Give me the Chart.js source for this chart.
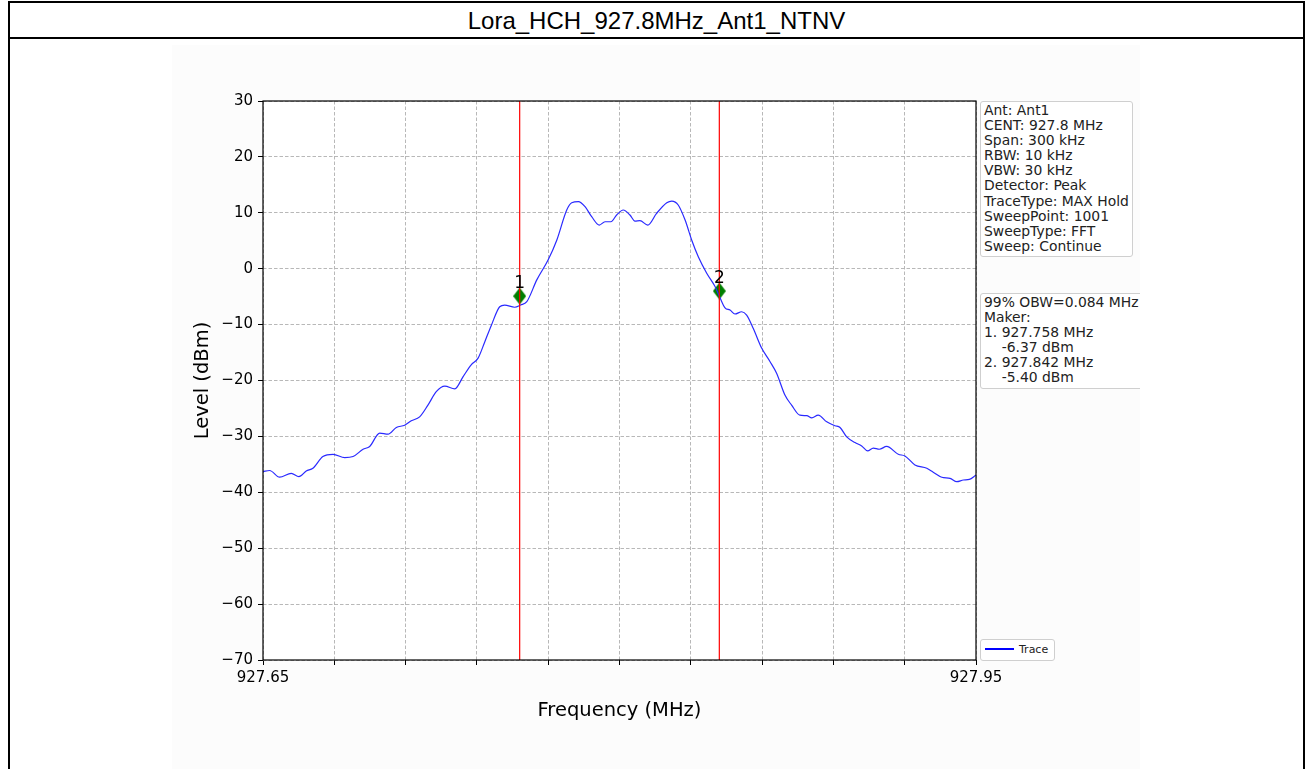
<!DOCTYPE html>
<html>
<head>
<meta charset="utf-8">
<script src="https://cdn.jsdelivr.net/npm/chart.js@4.4.1/dist/chart.umd.min.js"></script>
<style>
    body { margin: 0; background: #ffffff; width: 1310px; height: 769px; overflow: hidden; position: relative; }
    #frame { position: absolute; left: 8px; top: 1px; width: 1293px; height: 800px; border: 2px solid #000; }
    #title { position: absolute; left: 0; top: 0; width: 100%; height: 34px; border-bottom: 2px solid #000;
             font-family: "Liberation Sans", Arial, sans-serif; font-size: 24px; line-height: 36px; text-align: center; }
    #figure { position: absolute; left: 172px; top: 45px; width: 968px; height: 724px; background: #fcfcfc; overflow: hidden; }
    canvas#myChart { position: absolute; left: 0; top: 0; }
    .box { position: absolute; background: #fff; border: 1px solid #cfcfcf; border-radius: 3px;
           font-family: "DejaVu Sans", sans-serif; font-size: 13.9px; line-height: 15.1px; color: #222;
           white-space: pre; padding: 1px 3px 2px 3px; }
    #info { left: 808px; top: 56px; width: 145px; }
    #obw { left: 808px; top: 248px; width: 170px; }
    #legend { left: 808px; top: 594px; width: 67px; height: 20px; font-size: 11px; line-height: 20px; padding: 0 3px; }
    #legend span.swatch { display: inline-block; width: 29px; height: 1.5px; background: #0000ff; vertical-align: middle; margin: 0 5px 2px 1px; }
</style>
</head>
<body>
<div id="frame"><div id="title">Lora_HCH_927.8MHz_Ant1_NTNV</div></div>
<div id="figure">
    <div class="box" id="info"></div>
    <div class="box" id="obw"></div>
    <div class="box" id="legend"><span class="swatch"></span>Trace</div>
</div>
<canvas id="myChart" width="1310" height="769"></canvas>
<script>
// trace (MHz, dBm)
const freqMHz = [
    927.6500, 927.6528, 927.6570, 927.6619, 927.6651, 927.6682, 927.6710, 927.6752, 927.6795, 927.6844,
    927.6879, 927.6921, 927.6949, 927.6991, 927.7026, 927.7061, 927.7096, 927.7124, 927.7159, 927.7194,
    927.7229, 927.7265, 927.7307, 927.7342, 927.7376, 927.7405, 927.7433, 927.7461, 927.7496, 927.7517,
    927.7559, 927.7584, 927.7610, 927.7652, 927.7700, 927.7736, 927.7778, 927.7799, 927.7827, 927.7855,
    927.7883, 927.7915, 927.7939, 927.7964, 927.7988, 927.8016, 927.8044, 927.8065, 927.8086, 927.8119,
    927.8156, 927.8199, 927.8220, 927.8247, 927.8276, 927.8304, 927.8332, 927.8367, 927.8402, 927.8423,
    927.8444, 927.8465, 927.8486, 927.8514, 927.8535, 927.8563, 927.8598, 927.8633, 927.8661, 927.8696,
    927.8724, 927.8759, 927.8788, 927.8809, 927.8836, 927.8872, 927.8907, 927.8928, 927.8956, 927.8991,
    927.9019, 927.9044, 927.9068, 927.9093, 927.9124, 927.9173, 927.9201, 927.9243, 927.9293, 927.9320,
    927.9356, 927.9391, 927.9419, 927.9447, 927.9472, 927.9500
];
const levelDbm = [
    -36.3, -36.1, -37.3, -36.6, -37.2, -36.2, -35.7, -33.6, -33.2, -33.8,
    -33.6, -32.3, -31.8, -29.4, -29.6, -28.4, -28.0, -27.2, -26.5, -24.4,
    -22.0, -21.0, -21.5, -19.3, -17.2, -16.0, -13.1, -10.1, -6.8, -6.5,
    -6.9, -6.5, -5.9, -2.0, 1.6, 5.1, 10.5, 11.8, 12.0, 11.1,
    9.3, 7.8, 8.4, 8.4, 9.6, 10.5, 9.6, 8.5, 8.6, 7.8,
    9.9, 11.8, 12.1, 11.4, 8.7, 5.1, 2.1, -0.8, -3.2, -5.2,
    -7.0, -7.4, -8.1, -7.7, -8.3, -10.7, -14.2, -16.6, -18.7, -22.6,
    -24.4, -26.2, -26.3, -26.7, -26.2, -27.4, -28.1, -28.4, -30.1, -31.1,
    -31.7, -32.6, -32.1, -32.3, -31.8, -33.2, -33.5, -35.1, -35.7, -36.4,
    -37.3, -37.5, -38.1, -37.8, -37.7, -36.9
];

// markers
const markerNames = ["1", "2"];
const markerFreqs = [927.758, 927.842];
const markerLevels = [-4.9, -4.0];

// axes
const xTicks = [927.65, 927.68, 927.71, 927.74, 927.77, 927.80, 927.83, 927.86, 927.89, 927.92, 927.95];
const xTickLabels = ["927.65", "", "", "", "", "", "", "", "", "", "927.95"];
const yMin = -70;
const yMax = 30;

// text boxes
const infoLines = ["Ant: Ant1", "CENT: 927.8 MHz", "Span: 300 kHz", "RBW: 10 kHz", "VBW: 30 kHz",
    "Detector: Peak", "TraceType: MAX Hold", "SweepPoint: 1001", "SweepType: FFT", "Sweep: Continue"];
const obwLines = ["99% OBW=0.084 MHz", "Maker:", "1. 927.758 MHz", "    -6.37 dBm", "2. 927.842 MHz", "    -5.40 dBm"];

document.getElementById("info").textContent = infoLines.join("\n");
document.getElementById("obw").textContent = obwLines.join("\n");

// thin diamond like matplotlib 'd'
function makeDiamond() {
    let c = document.createElement("canvas");
    c.width = 13;
    c.height = 17;
    let g = c.getContext("2d");
    g.fillStyle = "#007f00";
    g.beginPath();
    g.moveTo(6.5, 0);
    g.lineTo(13, 8.5);
    g.lineTo(6.5, 17);
    g.lineTo(0, 8.5);
    g.closePath();
    g.fill();
    return c;
}

// white axes face + top/right spines + marker numbers
const framePlugin = {
    id: "framePlugin",
    beforeDraw(chart) {
        const a = chart.chartArea;
        const ctx = chart.ctx;
        ctx.save();
        ctx.fillStyle = "#ffffff";
        ctx.fillRect(a.left, a.top, a.right - a.left, a.bottom - a.top);
        ctx.restore();
    },
    afterDraw(chart) {
        const a = chart.chartArea;
        const ctx = chart.ctx;
        ctx.save();
        ctx.strokeStyle = "#000";
        ctx.lineWidth = 1.2;
        ctx.strokeRect(a.left, a.top, a.right - a.left, a.bottom - a.top);

        ctx.fillStyle = "#000";
        ctx.font = "17px 'DejaVu Sans'";
        ctx.textAlign = "center";
        ctx.textBaseline = "alphabetic";
        for (var i = 0; i < markerNames.length; i++) {
            let px = chart.scales.x.getPixelForValue(markerFreqs[i]);
            let py = chart.scales.y.getPixelForValue(markerLevels[i]);
            ctx.fillText(markerNames[i], px, py - 8);
        }
        ctx.restore();
    }
};

let tracePoints = freqMHz.map((f, i) => ({ x: f, y: levelDbm[i] }));
let markerPoints = markerFreqs.map((f, i) => ({ x: f, y: markerLevels[i] }));

let datasets = [];
for (var i = 0; i < markerFreqs.length; i++) {
    datasets.push({
        label: "M" + markerNames[i],
        data: [{ x: markerFreqs[i], y: yMin }, { x: markerFreqs[i], y: yMax }],
        borderColor: "#ff0000",
        borderWidth: 1.2,
        pointRadius: 0,
    });
}
datasets.push({
    label: "Trace",
    data: tracePoints,
    borderColor: "#2a2aff",
    borderWidth: 1.2,
    pointRadius: 0,
    cubicInterpolationMode: "monotone",
});
datasets.push({
    label: "Markers",
    data: markerPoints,
    showLine: false,
    pointStyle: makeDiamond(),
    pointRadius: 9,
});

const gridStyle = {
    color: "#b0b0b0",
    lineWidth: 0.9,
    drawTicks: true,
    tickLength: 5,
    tickColor: "#000",
    tickWidth: 1,
    tickBorderDash: [1, 0],
};

let myChart = new Chart(document.getElementById("myChart"), {
    type: "line",
    data: { datasets: datasets },
    plugins: [framePlugin],
    options: {
        responsive: false,
        animation: false,
        events: [],
        layout: {
            padding: { left: 180, top: 101, right: 334, bottom: 29 },
        },
        plugins: {
            legend: { display: false },
            title: { display: false },
            tooltip: { enabled: false },
        },
        scales: {
            x: {
                type: "linear",
                min: 927.65,
                max: 927.95,
                grid: gridStyle,
                border: { display: false, dash: [3.5, 2] },
                afterBuildTicks: axis => { axis.ticks = xTicks.map(v => ({ value: v })); },
                afterFit: axis => { axis.height = 80; },
                ticks: {
                    autoSkip: false,
                    maxRotation: 0,
                    padding: 4,
                    color: "#000",
                    font: { family: "DejaVu Sans", size: 15 },
                    callback: (value, index) => xTickLabels[index],
                },
                title: {
                    display: true,
                    text: "Frequency (MHz)",
                    color: "#000",
                    font: { family: "DejaVu Sans", size: 19.5 },
                    padding: { top: 0, bottom: 17 },
                },
            },
            y: {
                type: "linear",
                min: yMin,
                max: yMax,
                grid: gridStyle,
                border: { display: false, dash: [3.5, 2] },
                afterFit: axis => { axis.width = 83; },
                ticks: {
                    stepSize: 10,
                    padding: 5,
                    color: "#000",
                    font: { family: "DejaVu Sans", size: 15 },
                    callback: value => (value < 0 ? "\u2212" + Math.abs(value) : String(value)),
                },
                title: {
                    display: true,
                    text: "Level (dBm)",
                    color: "#000",
                    font: { family: "DejaVu Sans", size: 19.5 },
                    padding: { top: 11, bottom: 0 },
                },
            },
        },
    },
});
</script>
</body>
</html>
